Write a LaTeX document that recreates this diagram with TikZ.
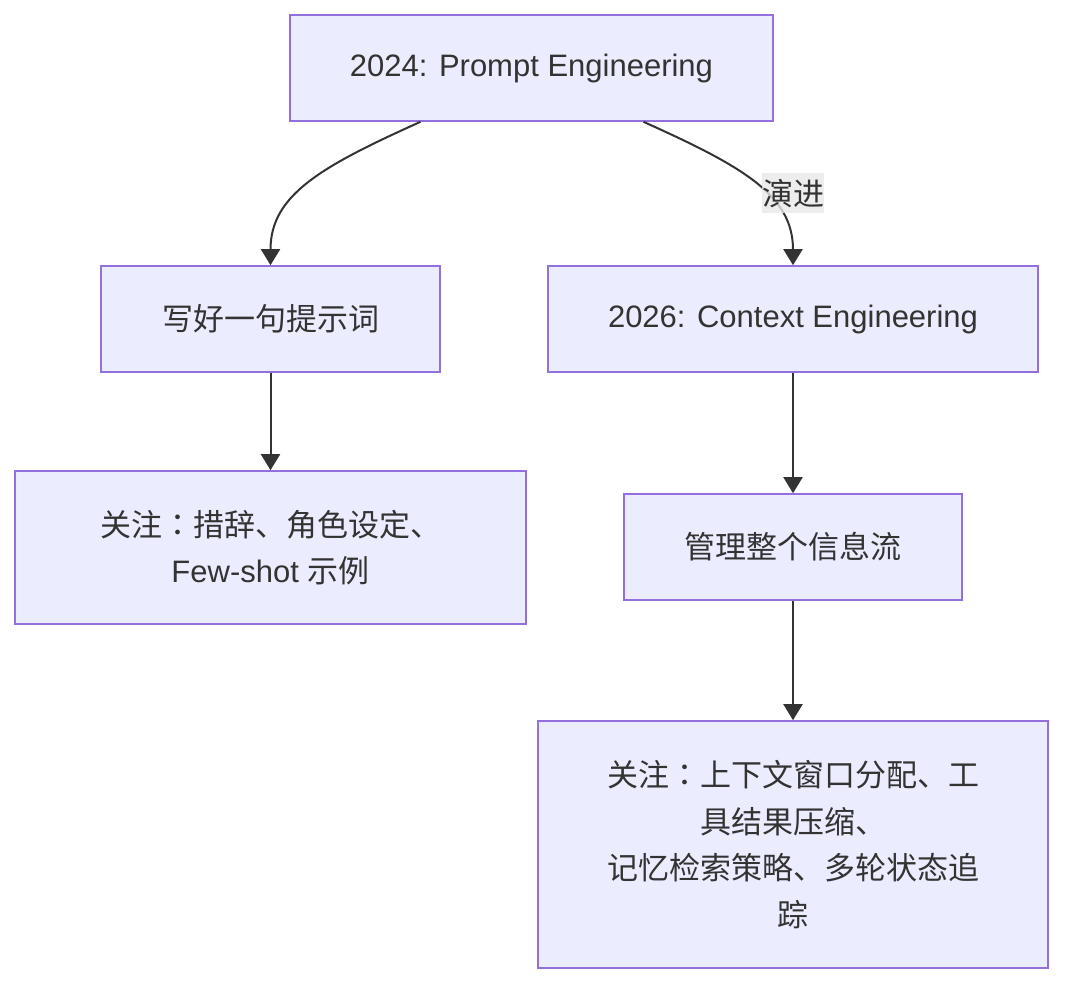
\documentclass[tikz,border=0pt]{standalone}
\usepackage{fontspec}
\setmainfont{Liberation Sans}
\newfontfamily\cjk{Noto Sans CJK SC}
\newfontfamily\cjkjp{Noto Sans CJK JP}
\newcommand{\zhcolon}{{\cjkjp ：}}
\usetikzlibrary{arrows.meta}
\definecolor{boxfill}{HTML}{ECECFF}
\definecolor{boxline}{HTML}{9370DB}
\definecolor{ink}{HTML}{333333}
\definecolor{tagfill}{HTML}{E8E8E8}
\tikzset{
    stage/.style={draw=boxline,fill=boxfill,line width=1.6pt,text=ink,align=center,inner sep=0pt,font=\fontsize{31}{46.5}\selectfont},
    zhstage/.style={stage,font=\fontsize{31}{46.5}\selectfont\cjk},
    flow/.style={draw=ink,line width=2pt,-{Triangle[length=16pt,width=19pt]}},
    tag/.style={fill=tagfill,fill opacity=0.8,text opacity=1,text=ink,inner xsep=0pt,inner ysep=6pt,font=\fontsize{31}{36}\selectfont\cjk}
}
\begin{document}
\begin{tikzpicture}[x=1pt,y=-1pt]
    \useasboundingbox (0,0) rectangle (1080,1000);
    \node[stage,minimum width=483pt,minimum height=106pt] (p24) at (531.5,68) {2024: Prompt Engineering};
    \node[zhstage,minimum width=339pt,minimum height=106pt] (prompt) at (270.5,319) {写好一句提示词};
    \node[stage,minimum width=490pt,minimum height=106pt] (c26) at (793,319) {2026: Context Engineering};
    \node[stage,minimum width=511pt,minimum height=153pt] (pfocus) at (270.5,547.5) {{\cjk 关注\zhcolon 措辞、角色设定、}\\Few-shot {\cjk 示例}};
    \node[zhstage,minimum width=338pt,minimum height=106pt] (infoflow) at (793,547) {管理整个信息流};
    \node[zhstage,minimum width=510pt,minimum height=247pt] (cfocus) at (793,844.5) {关注\zhcolon 上下文窗口分配、工\\具结果压缩、\\记忆检索策略、多轮状态追\\踪};

    \draw[flow] ([xshift=-111pt]p24.south) .. controls +(-100,45) and +(0,-70) .. (prompt.north);
    \draw[flow] ([xshift=112pt]p24.south) .. controls +(100,45) and +(0,-70) .. (c26.north)
        node[tag] (evolve) at ([yshift=72pt]c26.north) {演进};
    \draw[flow] (prompt) -- (pfocus);
    \draw[flow] (c26) -- (infoflow);
    \draw[flow] (infoflow) -- (cfocus);
\end{tikzpicture}
\end{document}
